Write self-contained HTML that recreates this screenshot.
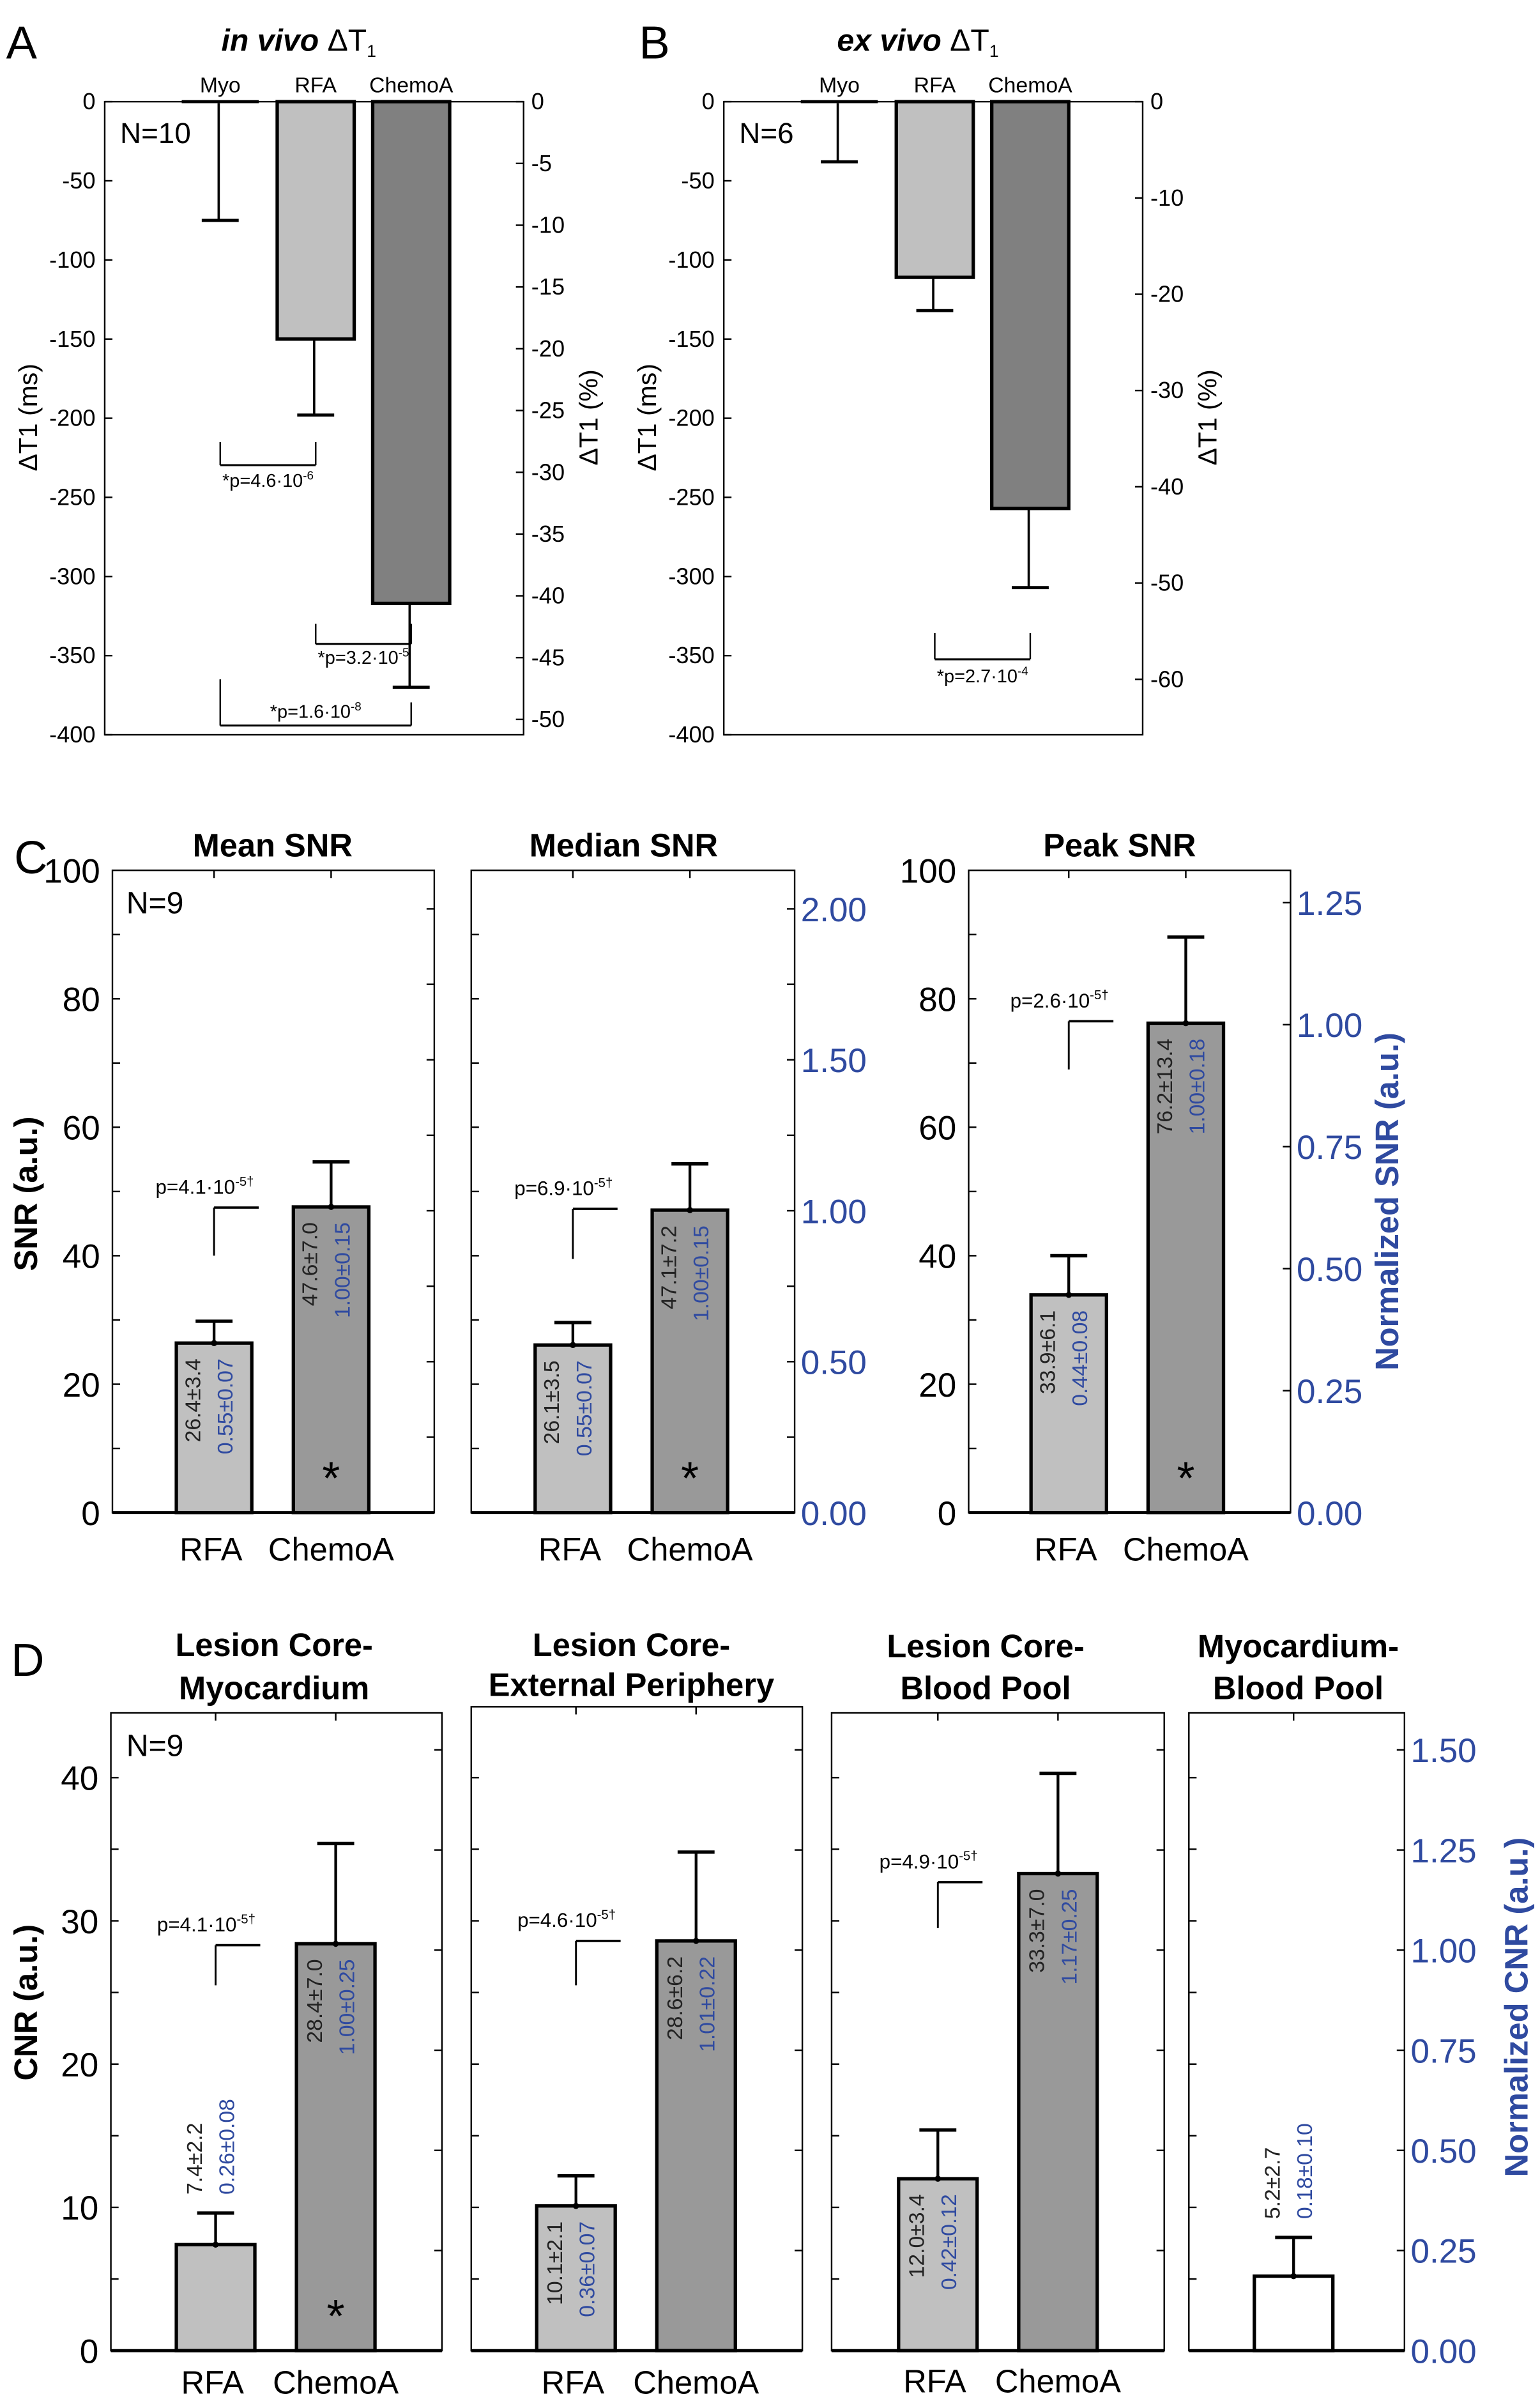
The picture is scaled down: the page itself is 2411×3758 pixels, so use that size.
<!DOCTYPE html>
<html><head><meta charset="utf-8"><style>
html,body{margin:0;padding:0;background:#fff;}
svg{display:block;}
text{font-family:"Liberation Sans",sans-serif;}
</style></head><body>
<svg id="fig" width="2411" height="3758" viewBox="0 0 1000 1558.7" xmlns="http://www.w3.org/2000/svg"></svg>
<script>
// ---- Panel A / B data ----
const t1Cats = ["Myo","RFA","ChemoA"];
const vivoVals = [-1,-150,-317];
const vivoSd = [74,48,53];
const exVals = [-1,-111,-257];
const exSd = [37,21,50];
const t1TicksMs = [0,-50,-100,-150,-200,-250,-300,-350,-400];
const vivoTicksPct = [0,-5,-10,-15,-20,-25,-30,-35,-40,-45,-50];
const exTicksPct = [0,-10,-20,-30,-40,-50,-60];
// ---- Panel C data ----
const snrCats = ["RFA","ChemoA"];
const snrMean = [26.4,47.6];
const snrMeanSd = [3.4,7.0];
const snrMedian = [26.1,47.1];
const snrMedianSd = [3.5,7.2];
const snrPeak = [33.9,76.2];
const snrPeakSd = [6.1,13.4];
const snrMeanNorm = ["0.55±0.07","1.00±0.15"];
const snrMedianNorm = ["0.55±0.07","1.00±0.15"];
const snrPeakNorm = ["0.44±0.08","1.00±0.18"];
const snrTicks = [0,20,40,60,80,100];
const snrNormTicksA = ["0.00","0.50","1.00","1.50","2.00"];
const snrNormTicksB = ["0.00","0.25","0.50","0.75","1.00","1.25"];
// ---- Panel D data ----
const cnrCore = [7.4,28.4];
const cnrCoreSd = [2.2,7.0];
const cnrExt = [10.1,28.6];
const cnrExtSd = [2.1,6.2];
const cnrBlood = [12.0,33.3];
const cnrBloodSd = [3.4,7.0];
const cnrMyo = [5.2];
const cnrMyoSd = [2.7];
const cnrCoreNorm = ["0.26±0.08","1.00±0.25"];
const cnrExtNorm = ["0.36±0.07","1.01±0.22"];
const cnrBloodNorm = ["0.42±0.12","1.17±0.25"];
const cnrMyoNorm = ["0.18±0.10"];
const cnrTicks = [0,10,20,30,40];
const cnrNormTicks = ["0.00","0.25","0.50","0.75","1.00","1.25","1.50"];

const svg = document.getElementById('fig');
const NS = "http://www.w3.org/2000/svg";
const BLUE = "#2f4aa0";
function mk(tag, attrs, txt){
  const e = document.createElementNS(NS, tag);
  for (const k in attrs) e.setAttribute(k, attrs[k]);
  if (txt !== undefined) e.textContent = txt;
  svg.appendChild(e);
  return e;
}
function line(x1,y1,x2,y2,w,name){
  const e = mk('line',{x1:x1,y1:y1,x2:x2,y2:y2,stroke:'#000','stroke-width':w||1});
  
  
  return e;
}
function txt(x,y,s,size,opts,name){
  opts = opts||{};
  const a = {x:x,y:y,'font-size':size,'text-anchor':opts.anchor||'middle',fill:opts.fill||'#000'};
  if (opts.bold) a['font-weight']='bold';
  if (opts.italic) a['font-style']='italic';
  if (opts.rot) a.transform='rotate(-90 '+x+' '+y+')';
  if (opts.family) a['font-family']=opts.family;
  const e = mk('text',a,s);
  
  
  return e;
}
function box(x0,y0,x1,y1,name){
  const r = mk('rect',{x:x0,y:y0,width:x1-x0,height:y1-y0,fill:'none',stroke:'#000','stroke-width':1});
  
  
}
function bar(cx,w,yTop,yBase,fill,name){
  const y = Math.min(yTop,yBase), h = Math.abs(yBase-yTop);
  const r = mk('rect',{x:cx-w/2,y:y,width:w,height:Math.max(h,0.5),fill:fill,stroke:'#000','stroke-width':2.2});
  
  
}
function err(cx,yTop,yEnd,name){
  line(cx,yTop,cx,yEnd,1.8,name+'-errorbar');
  line(cx-12,yEnd,cx+12,yEnd,2.2,name+'-errorcap');
  const c = mk('circle',{cx:cx,cy:yTop,r:2,fill:'#000'});
  
  
}
function ptext(x,y,base,exp,size,anchor,name){
  const t = mk('text',{x:x,y:y,'font-size':size,'text-anchor':anchor||'middle',fill:'#000'});
  
  
  t.appendChild(document.createTextNode(base));
  const s = document.createElementNS(NS,'tspan');
  s.setAttribute('font-size', size*0.65);
  s.setAttribute('dy', -size*0.4);
  s.textContent = exp;
  t.appendChild(s);
}

// ================= Panel A & B =================
function t1Panel(x0,x1,vals,sd,pctTicks,pctPerPx,title,ital,n,label,brackets){
  const top=66, bot=477;
  const y = v => top + (-v)*(bot-top)/400;
  const yp = p => top + (-p)*pctPerPx;
  const cx = i => x0 + 75 + i*62;
  box(x0,top,x1,bot,label+'-axes-box');
  t1TicksMs.forEach(v=>{
    line(x0,y(v),x0+5,y(v),1,'y-tick');
    txt(x0-6,y(v)+5,String(v),15,{anchor:'end'},'y-tick-label');
  });
  pctTicks.forEach(p=>{
    line(x1-5,yp(p),x1,yp(p),1,'y2-tick');
    txt(x1+5,yp(p)+5,String(p),15,{anchor:'start'},'y2-tick-label');
  });
  vals.forEach((v,i)=>{
    const fill = ['#fff','#c0c0c0','#808080'][i];
    if (i>0) bar(cx(i),50,y(v),y(0),fill,'bar-'+t1Cats[i].toLowerCase());
    else line(cx(i)-25,y(0),cx(i)+25,y(0),2,'bar-myo');
    line(cx(i)-1,y(v),cx(i)-1,y(v-sd[i]),1.5,'errorbar-'+t1Cats[i].toLowerCase());
    line(cx(i)-12,y(v-sd[i]),cx(i)+12,y(v-sd[i]),2,'errorcap-'+t1Cats[i].toLowerCase());
    txt(cx(i),60,t1Cats[i],14,{},'category-label');
  });
  const tt = mk('text',{x:(x0+x1)/2-10,y:33,'font-size':20,'text-anchor':'middle'});
  
  
  const t1 = document.createElementNS(NS,'tspan'); t1.setAttribute('font-weight','bold'); t1.setAttribute('font-style','italic'); t1.textContent = ital+' '; tt.appendChild(t1);
  const t2 = document.createElementNS(NS,'tspan'); t2.textContent='ΔT'; tt.appendChild(t2);
  const t3 = document.createElementNS(NS,'tspan'); t3.setAttribute('font-size',11); t3.setAttribute('dy',4); t3.textContent='1'; tt.appendChild(t3);
  txt(x0+10,93,n,19,{anchor:'start'},'n-label');
  txt(x0-44,271,'ΔT1 (ms)',17,{rot:true},'y-axis-title');
  txt(x1+48,271,'ΔT1 (%)',17,{rot:true},'y2-axis-title');
  brackets.forEach(b=>{
    const xa=cx(b[0]), xb=cx(b[1]);
    line(xa,b[2],xa,b[4],1,'significance-bracket');
    line(xb,b[3],xb,b[4],1,'significance-bracket');
    line(xa,b[4],xb,b[4],1.3,'significance-bracket');
    ptext((xa+xb)/2,b[5],b[6],b[7],12,'middle','p-value-label');
  });
}
txt(14,38,'A',30,{},'panel-label-a');
txt(425,38,'B',30,{},'panel-label-b');
t1Panel(68,340,vivoVals,vivoSd,vivoTicksPct,401/50,'in vivo','in vivo','N=10','panel-a',
  [[0,1,287,287,302,316,'*p=4.6·10','-6'],[1,2,405,405,418,431,'*p=3.2·10','-5'],[0,2,441,456,471,466,'*p=1.6·10','-8']]);
t1Panel(470,742,exVals,exSd,exTicksPct,6.25,'ex vivo','ex vivo','N=6','panel-b',
  [[1,2,411,411,428,443,'*p=2.7·10','-4']]);

// ================= Panel C & D generic =================
function barPanel(o){
  const y = v => o.base - v*o.pxPer;
  box(o.x0,o.top,o.x1,o.base,o.name+'-axes-box');
  line(o.x0,o.base,o.x1,o.base,2,o.name+'-x-axis');
  for (let v=0; y(v)>o.top+2; v+=o.minor){
    line(o.x0,y(v),o.x0+5,y(v),1,'y-tick');
  }
  for (let k=0; o.base-k*o.rStep>o.top+2; k++){
    const yy=o.base-k*o.rStep;
    line(o.x1-5,yy,o.x1,yy,1,'y2-tick');
  }
  if (o.leftLabels) o.leftLabels.forEach(v=>txt(o.x0-8,y(v)+8,String(v),22,{anchor:'end'},'y-tick-label'));
  if (o.rightLabels) o.rightLabels.forEach((s,k)=>txt(o.x1+4,o.base-k*o.rLabStep+8,s,22,{anchor:'start',fill:BLUE},'y2-tick-label'));
  o.vals.forEach((v,i)=>{
    const cx = o.cx[i];
    line(cx,o.top,cx,o.top+5,1,'x-tick-top');
    const nm = o.name+'-bar-'+(o.cats[i]||'myo').toLowerCase();
    bar(cx,o.bw,y(v),o.base,o.fills[i],nm);
    err(cx,y(v),y(v+o.sd[i]),nm);
    const mean = v.toFixed(1)+'±'+o.sd[i].toFixed(1);
    const fam = '"DejaVu Sans",sans-serif';
    let endY, anchor;
    if (o.above && o.above[i]) { endY = y(v+o.sd[i])-12; anchor='start'; }
    else { endY = y(v)+10; anchor='end'; }
    const t1 = mk('text',{x:cx-9,y:endY,'font-size':14,'text-anchor':anchor,fill:'#222','font-family':fam,transform:'rotate(-90 '+(cx-9)+' '+endY+')'},mean);
    
    
    const t2 = mk('text',{x:cx+12,y:endY,'font-size':14,'text-anchor':anchor,fill:BLUE,'font-family':fam,transform:'rotate(-90 '+(cx+12)+' '+endY+')'},o.norm[i]);
    
    
    if (o.cats[i]) txt(cx+(i===0?-2:0),o.base+(o.labOff||31),o.cats[i],21,{},'x-tick-label');
  });
  if (o.star) txt(o.cx[1],o.base-12,'*',30,{},'significance-star');
  if (o.p){
    const xa=o.cx[0];
    line(xa,y(o.p[0]),xa,y(o.p[1]),1.2,'significance-bracket');
    line(xa,y(o.p[1]),xa+29,y(o.p[1]),1.5,'significance-bracket');
    ptext(xa-38,y(o.p[1])-9,o.p[2],o.p[3],13,'start','p-value-label');
  }
}

// Panel C
txt(20,567,'C',30,{},'panel-label-c');
const cBase=982, cPx=4.17;
barPanel({name:'mean-snr',x0:73,x1:282,top:565,base:cBase,pxPer:cPx,minor:10,rStep:49,cats:snrCats,
  vals:snrMean,sd:snrMeanSd,norm:snrMeanNorm,cx:[139,215],bw:49,fills:['#c0c0c0','#999'],star:true,
  leftLabels:snrTicks,p:[40,47.5,'p=4.1·10','-5†']});
barPanel({name:'median-snr',x0:306,x1:516,top:565,base:cBase,pxPer:cPx,minor:10,rStep:49,cats:snrCats,
  vals:snrMedian,sd:snrMedianSd,norm:snrMedianNorm,cx:[372,448],bw:49,fills:['#c0c0c0','#999'],star:true,
  rightLabels:snrNormTicksA,rLabStep:98,p:[39.5,47.3,'p=6.9·10','-5†']});
barPanel({name:'peak-snr',x0:629,x1:838,top:565,base:cBase,pxPer:cPx,minor:10,rStep:79.2,cats:snrCats,
  vals:snrPeak,sd:snrPeakSd,norm:snrPeakNorm,cx:[694,770],bw:49,fills:['#c0c0c0','#999'],star:true,
  leftLabels:snrTicks,rightLabels:snrNormTicksB,rLabStep:79.2,p:[69,76.5,'p=2.6·10','-5†']});
[['Mean SNR',177],['Median SNR',405],['Peak SNR',727]].forEach(t=>txt(t[1],556,t[0],21,{bold:true},'subplot-title'));
txt(82,593,'N=9',20,{anchor:'start'},'n-label');
txt(24,775,'SNR (a.u.)',21,{rot:true,bold:true},'y-axis-title');
txt(908,780,'Normalized SNR (a.u.)',21,{rot:true,bold:true,fill:BLUE},'y2-axis-title');

// Panel D
txt(18,1088,'D',30,{},'panel-label-d');
const dBase=1526, dPx=9.3;
barPanel({name:'core-myocardium',x0:72,x1:287,top:1112,base:dBase,pxPer:dPx,minor:5,rStep:65,cats:snrCats,labOff:28,
  vals:cnrCore,sd:cnrCoreSd,norm:cnrCoreNorm,cx:[140,218],bw:51,fills:['#c0c0c0','#999'],star:true,
  above:[true,false],leftLabels:cnrTicks,p:[25.5,28.3,'p=4.1·10','-5†']});
barPanel({name:'core-periphery',x0:306,x1:521,top:1108,base:dBase,pxPer:dPx,minor:5,rStep:65,cats:snrCats,labOff:28,
  vals:cnrExt,sd:cnrExtSd,norm:cnrExtNorm,cx:[374,452],bw:51,fills:['#c0c0c0','#999'],
  p:[25.5,28.6,'p=4.6·10','-5†']});
barPanel({name:'core-bloodpool',x0:540,x1:756,top:1112,base:dBase,pxPer:dPx,minor:5,rStep:65,cats:snrCats,labOff:27,
  vals:cnrBlood,sd:cnrBloodSd,norm:cnrBloodNorm,cx:[609,687],bw:51,fills:['#c0c0c0','#999'],
  p:[29.5,32.7,'p=4.9·10','-5†']});
barPanel({name:'myocardium-bloodpool',x0:772,x1:912,top:1112,base:dBase,pxPer:dPx,minor:5,rStep:65,cats:[null],
  vals:cnrMyo,sd:cnrMyoSd,norm:cnrMyoNorm,cx:[840],bw:51,fills:['#fff'],above:[true],
  rightLabels:cnrNormTicks,rLabStep:65});
[['Lesion Core-',178,1075],['Myocardium',178,1103],['Lesion Core-',410,1075],['External Periphery',410,1101],
 ['Lesion Core-',640,1076],['Blood Pool',640,1103],['Myocardium-',843,1076],['Blood Pool',843,1103]]
 .forEach(t=>txt(t[1],t[2],t[0],21,{bold:true},'subplot-title'));
txt(82,1140,'N=9',20,{anchor:'start'},'n-label');
txt(24,1300,'CNR (a.u.)',21,{rot:true,bold:true},'y-axis-title');
txt(992,1303,'Normalized CNR (a.u.)',21,{rot:true,bold:true,fill:BLUE},'y2-axis-title');
</script>
</body></html>
